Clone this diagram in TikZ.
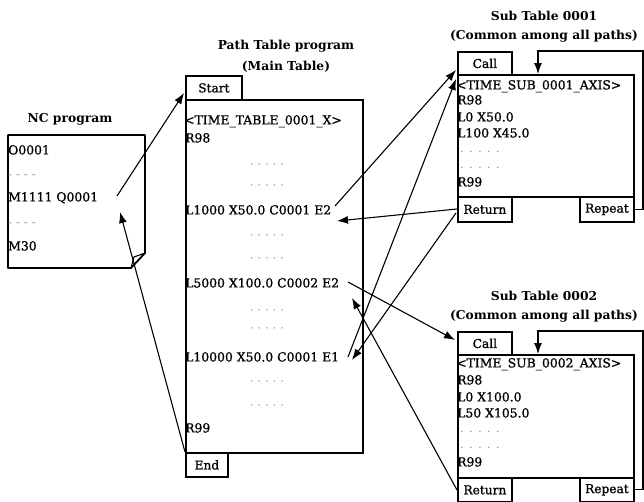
\documentclass[tikz,border=0pt]{standalone}
\usepackage{fontspec}
\setmainfont{DejaVu Serif}
\newfontfamily\bodyfont{DejaVu Serif}[RawFeature={embolden=1.0}]
\usetikzlibrary{arrows.meta}
\tikzset{
 frame/.style={draw, line width=1.8pt, inner sep=0pt, anchor=north west},
 lbl/.style={draw, line width=1.8pt, inner sep=0pt, anchor=north west, font=\fontsize{12.2}{14}\selectfont\bodyfont},
 txt/.style={anchor=base west, inner sep=0pt, font=\fontsize{12.4}{14}\selectfont\bodyfont},
 dotsc/.style={inner sep=0pt, text=black!40, font=\fontsize{12}{14}\selectfont},
 dotsw/.style={inner sep=0pt, anchor=west, text=black!40, font=\fontsize{12}{14}\selectfont},
 ttl/.style={anchor=base, inner sep=0pt, font=\fontsize{12.3}{14}\selectfont\bfseries},
 arr/.style={-{Latex[length=11pt,width=8pt]}, line width=1.1pt},
}
\begin{document}
\begin{tikzpicture}[x=1pt,y=-1pt]
\useasboundingbox (0,0) rectangle (644,501);

% ---------- NC program ----------
\node[ttl] (nctitle) at (70,122) {NC program};
\draw[line width=1.8pt, line join=round] (8,135) -- (145,135) -- (145,253) -- (131,268) -- (8,268) -- cycle;
\draw[line width=1.1pt] (131,268) -- (134,257) -- (145,253);
\node[txt] (nc1) at (8,154.4) {O0001};
\node[dotsw] (nc2) at (8,177) {- - - -};
\node[txt] (nc3) at (8,201.4) {M1111 Q0001};
\node[dotsw] (nc4) at (8,225) {- - - -};
\node[txt] (nc5) at (8,250.4) {M30};
\coordinate (ncout) at (117,196);
\coordinate (ncin) at (120,212);

% ---------- Main table ----------
\node[ttl] (mt1) at (286,49) {Path Table program};
\node[ttl] (mt2) at (286,70) {(Main Table)};
\node[lbl, minimum width=56pt, minimum height=24pt] (start) at (185,75) {Start};
\node[frame, minimum width=177pt, minimum height=353pt] (main) at (185,99) {};
\node[lbl, minimum width=42pt, minimum height=24pt] (end) at (185,452) {End};
\node[txt] (m1) at (184,124.4) {<TIME\_TABLE\_0001\_X>};
\node[txt] (m2) at (185,142.4) {R98};
\node[dotsc] (d1) at (267,166) {· · · · ·};
\node[dotsc] (d2) at (267,187) {· · · · ·};
\node[txt] (m3) at (185,214.4) {L1000 X50.0 C0001 E2};
\node[dotsc] (d3) at (267,237) {· · · · ·};
\node[dotsc] (d4) at (267,260) {· · · · ·};
\node[txt] (m4) at (185,287.4) {L5000 X100.0 C0002 E2};
\node[dotsc] (d5) at (267,312) {· · · · ·};
\node[dotsc] (d6) at (267,330) {· · · · ·};
\node[txt] (m5) at (185,361.4) {L10000 X50.0 C0001 E1};
\node[dotsc] (d7) at (267,383) {· · · · ·};
\node[dotsc] (d8) at (267,407) {· · · · ·};
\node[txt] (m6) at (185,432.4) {R99};
\coordinate (startin) at (184,93);
\coordinate (l1000o) at (335,206);
\coordinate (l1000i) at (337,221);
\coordinate (l5000o) at (348,282);
\coordinate (l5000i) at (352,298);
\coordinate (l10000o) at (348,357);
\coordinate (l10000i) at (352,360);

% ---------- Sub table 0001 ----------
\node[ttl] (s1t1) at (544,20) {Sub Table 0001};
\node[ttl] (s1t2) at (544,39) {(Common among all paths)};
\node[lbl, minimum width=54pt, minimum height=23pt] (call1) at (457,51) {Call};
\node[frame, minimum width=176pt, minimum height=122pt] (sub1) at (457,74) {};
\node[lbl, minimum width=54pt, minimum height=25pt] (ret1) at (457,196) {Return};
\node[lbl, minimum width=54pt, minimum height=25pt] (rep1) at (579,196) {Repeat};
\node[txt] (a1) at (456,89.4) {<TIME\_SUB\_0001\_AXIS>};
\node[txt] (a2) at (457,104.4) {R98};
\node[txt] (a3) at (457,121.4) {L0 X50.0};
\node[txt] (a4) at (457,137.4) {L100 X45.0};
\node[dotsw] (a5) at (460,152) {. . . . .};
\node[dotsw] (a6) at (460,168) {. . . . .};
\node[txt] (a7) at (457,186.4) {R99};
\coordinate (call1in) at (456,70);
\coordinate (sub1in) at (456,79);
\coordinate (ret1a) at (457,209);
\coordinate (ret1b) at (456,213);
\coordinate (loop1) at (643,51);
\coordinate (loop1in) at (538,74);

% ---------- Sub table 0002 ----------
\node[ttl] (s2t1) at (544,300) {Sub Table 0002};
\node[ttl] (s2t2) at (544,319) {(Common among all paths)};
\node[lbl, minimum width=54pt, minimum height=23pt] (call2) at (457,331) {Call};
\node[frame, minimum width=176pt, minimum height=123pt] (sub2) at (457,354) {};
\node[lbl, minimum width=54pt, minimum height=24pt] (ret2) at (457,477) {Return};
\node[lbl, minimum width=54pt, minimum height=24pt] (rep2) at (579,477) {Repeat};
\node[txt] (b1) at (456,367.4) {<TIME\_SUB\_0002\_AXIS>};
\node[txt] (b2) at (457,384.4) {R98};
\node[txt] (b3) at (457,401.4) {L0 X100.0};
\node[txt] (b4) at (457,417.4) {L50 X105.0};
\node[dotsw] (b5) at (460,432) {. . . . .};
\node[dotsw] (b6) at (460,448) {. . . . .};
\node[txt] (b7) at (457,466.4) {R99};
\coordinate (call2in) at (455,340);
\coordinate (ret2a) at (457,490);
\coordinate (loop2) at (643,331);
\coordinate (loop2in) at (538,354);

% ---------- Connectors ----------
\draw[arr] (ncout) -- (startin);
\draw[arr] (end.north west) -- (ncin);
\draw[arr] (l1000o) -- (call1in);
\draw[arr] (ret1a) -- (l1000i);
\draw[arr] (l10000o) -- (sub1in);
\draw[arr] (ret1b) -- (l10000i);
\draw[arr] (l5000o) -- (call2in);
\draw[arr] (ret2a) -- (l5000i);
\draw[arr] (rep1.east) -| (loop1) -| (loop1in);
\draw[arr] (rep2.east) -| (loop2) -| (loop2in);
\end{tikzpicture}
\end{document}
